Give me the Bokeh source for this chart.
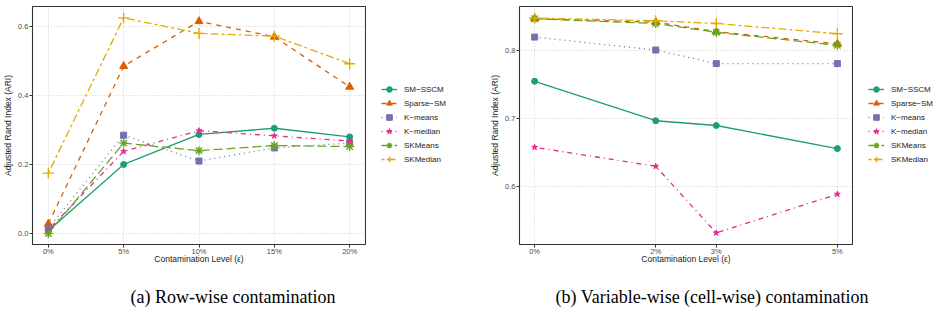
from bokeh.plotting import figure
from bokeh.models import Legend, LegendItem, FixedTicker, Range1d, Label
from bokeh.layouts import row, column
from bokeh.embed import file_html
from bokeh.resources import INLINE

# ---------------- data ----------------
methods = ["SM\u2212SSCM", "Sparse\u2212SM", "K\u2212means", "K\u2212median", "SKMeans", "SKMedian"]

# (a) Row-wise contamination
row_levels = [0, 5, 10, 15, 20]
row_labels = ["0%", "5%", "10%", "15%", "20%"]
row_sm_sscm = [0.008, 0.200, 0.287, 0.305, 0.280]
row_sparse_sm = [0.028, 0.485, 0.615, 0.570, 0.425]
row_kmeans = [0.015, 0.285, 0.210, 0.248, 0.262]
row_kmedian = [0.010, 0.238, 0.298, 0.283, 0.268]
row_skmeans = [0.000, 0.262, 0.240, 0.255, 0.252]
row_skmedian = [0.175, 0.625, 0.580, 0.572, 0.492]

# (b) Variable-wise (cell-wise) contamination
cell_levels = [0, 2, 3, 5]
cell_labels = ["0%", "2%", "3%", "5%"]
cell_sm_sscm = [0.755, 0.697, 0.690, 0.656]
cell_sparse_sm = [0.847, 0.842, 0.828, 0.810]
cell_kmeans = [0.820, 0.801, 0.781, 0.781]
cell_kmedian = [0.658, 0.630, 0.532, 0.589]
cell_skmeans = [0.847, 0.840, 0.827, 0.808]
cell_skmedian = [0.848, 0.844, 0.840, 0.825]

captions = ["(a) Row-wise contamination", "(b) Variable-wise (cell-wise) contamination"]

colors = ["#1B9E77", "#D95F02", "#7570B3", "#E7298A", "#66A61E", "#E6AB02"]
dashes = ["solid", "5 5", "1 4", "1 4 5 4", "9 4", "3 3 8 3"]
markers = ["circle", "triangle", "square", "star", "asterisk", "cross"]
msizes = [6, 8, 6, 6, 9, 11]

FONT = "Liberation Sans"
PH = 266  # height of the plot row
CH = 314 - PH  # height of the caption row


def add_series(p, xs, series):
    rends = []
    for ys, c, d, m, s in zip(series, colors, dashes, markers, msizes):
        lr = p.line(xs, ys, line_color=c, line_width=1.3, line_dash=d)
        if m in ("asterisk", "cross"):
            sr = p.scatter(xs, ys, marker=m, size=s, line_color=c, line_width=1.4)
        else:
            sr = p.scatter(xs, ys, marker=m, size=s, fill_color=c, line_color=c)
        rends.append((lr, sr))
    return rends


def make_panel(levels, labels, series, yr, yticks, xr, left_border, width):
    p = figure(width=width, height=PH, output_backend="svg", toolbar_location=None,
               x_range=Range1d(*xr), y_range=Range1d(*yr),
               min_border_left=left_border, min_border_right=1,
               min_border_top=6, min_border_bottom=16)
    p.background_fill_color = "white"
    p.border_fill_color = "white"
    p.outline_line_color = "#333333"
    p.outline_line_width = 1.1

    p.xaxis.ticker = FixedTicker(ticks=levels)
    p.xaxis.major_label_overrides = {lv: lb for lv, lb in zip(levels, labels)}
    p.yaxis.ticker = FixedTicker(ticks=yticks)
    p.yaxis.major_label_overrides = {t: f"{t:.1f}" for t in yticks}
    for ax in (p.xaxis[0], p.yaxis[0]):
        ax.axis_line_color = None
        ax.major_tick_line_color = "#333333"
        ax.major_tick_out = 3
        ax.major_tick_in = 0
        ax.minor_tick_line_color = None
        ax.major_label_text_font = FONT
        ax.major_label_text_font_size = "7.5px"
        ax.major_label_text_color = "#4D4D4D"
        ax.axis_label_text_font = FONT
        ax.axis_label_text_font_size = "8.5px"
        ax.axis_label_text_font_style = "normal"
        ax.axis_label_text_color = "#1A1A1A"
    p.xaxis.major_label_standoff = -1
    p.xaxis.axis_label_standoff = -5
    p.yaxis.major_label_standoff = 1
    p.yaxis.axis_label_standoff = 2
    p.xaxis.axis_label = "Contamination Level (\u03b5)"
    p.yaxis.axis_label = "Adjusted Rand Index (ARI)"

    p.grid.grid_line_color = "#CFCFCF"
    p.grid.grid_line_dash = "1 2"
    p.grid.grid_line_width = 1

    add_series(p, levels, series)
    return p


def make_legend_fig(width, x0, xs, series):
    # same series drawn again, but with ranges that keep them out of view:
    # only the legend of this figure is visible
    q = figure(width=width, height=PH, output_backend="svg", toolbar_location=None,
               x_range=Range1d(1000, 1001), y_range=Range1d(1000, 1001),
               x_axis_location=None, y_axis_location=None,
               min_border=0)
    q.outline_line_color = None
    q.grid.visible = False
    rends = add_series(q, xs, series)
    items = [LegendItem(label=name, renderers=[lr, sr]) for name, (lr, sr) in zip(methods, rends)]
    leg = Legend(items=items, location=(x0, 78), orientation="vertical",
                 glyph_width=16, glyph_height=14, spacing=0, padding=0, margin=0,
                 label_standoff=7, label_text_font=FONT, label_text_font_size="8px",
                 label_text_color="#1A1A1A", border_line_color=None,
                 background_fill_alpha=0, label_height=14)
    q.add_layout(leg, "center")
    return q


def make_caption(text, x0):
    c = figure(width=468, height=CH, output_backend="svg", toolbar_location=None,
               x_range=Range1d(0, 468), y_range=Range1d(0, CH),
               x_axis_location=None, y_axis_location=None, min_border=0)
    c.outline_line_color = None
    c.grid.visible = False
    c.add_layout(Label(x=x0, y=CH - (296 - PH), text=text, text_font="Liberation Serif",
                       text_font_size="18px", text_color="#000000",
                       text_baseline="middle", text_align="left"))
    return c


row_series = [row_sm_sscm, row_sparse_sm, row_kmeans, row_kmedian, row_skmeans, row_skmedian]
cell_series = [cell_sm_sscm, cell_sparse_sm, cell_kmeans, cell_kmedian, cell_skmeans, cell_skmedian]

p1 = make_panel(row_levels, row_labels, row_series,
                (-0.032, 0.658), [0.0, 0.2, 0.4, 0.6], (-1.05, 21.05), 32, 366)
l1 = make_legend_fig(102, 15, row_levels, row_series)
p2 = make_panel(cell_levels, cell_labels, cell_series,
                (0.515, 0.865), [0.6, 0.7, 0.8], (-0.25, 5.25), 51, 385)
l2 = make_legend_fig(83, 15, cell_levels, cell_series)

c1 = make_caption(captions[0], 130)
c2 = make_caption(captions[1], 87)

layout = column(row(p1, l1, p2, l2), row(c1, c2))
open("out.html", "w").write(file_html(layout, INLINE))
